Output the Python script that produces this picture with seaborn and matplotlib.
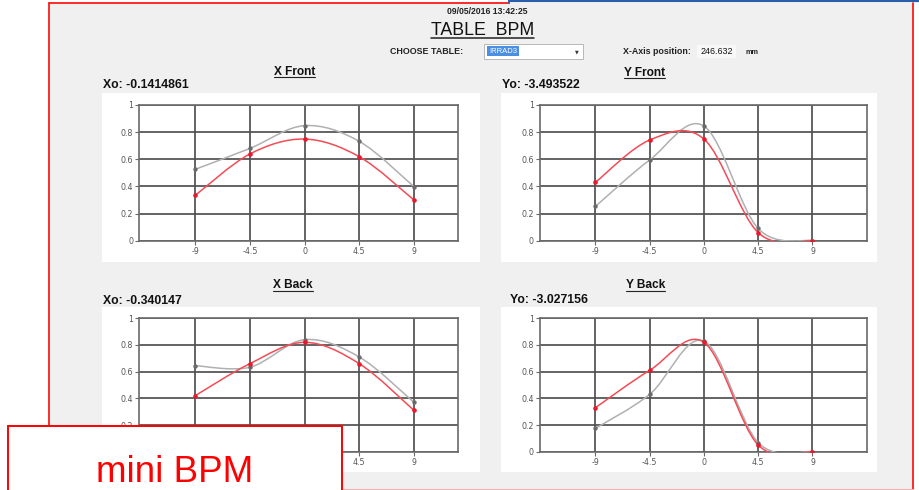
import matplotlib
matplotlib.use("Agg")
import matplotlib.pyplot as plt
from matplotlib.path import Path
from matplotlib.patches import PathPatch, Rectangle
from matplotlib.lines import Line2D
from matplotlib.transforms import IdentityTransform
import seaborn as sns
import pandas as pd

# ---------------- data ----------------
positions = [-9, -4.5, 0, 4.5, 9]
x_tick_labels = ["-9", "-4.5", "0", "4.5", "9"]
y_ticks = [0, 0.2, 0.4, 0.6, 0.8, 1]
y_tick_labels = ["0", "0.2", "0.4", "0.6", "0.8", "1"]

panel_titles = ["X Front", "Y Front", "X Back", "Y Back"]
panel_offsets = ["Xo: -0.1414861", "Yo: -3.493522", "Xo: -0.340147", "Yo: -3.027156"]

x_front_gray = [0.526, 0.68, 0.848, 0.732, 0.398]
x_front_red = [0.334, 0.639, 0.749, 0.619, 0.30]
y_front_gray = [0.253, 0.595, 0.845, 0.09, 0.0]
y_front_red = [0.43, 0.742, 0.749, 0.059, 0.0]
x_back_gray = [0.645, 0.633, 0.84, 0.71, 0.37]
x_back_red = [0.42, 0.66, 0.82, 0.66, 0.31]
y_back_gray = [0.175, 0.43, 0.83, 0.068, 0.0]
y_back_red = [0.33, 0.61, 0.82, 0.05, 0.0]

header_timestamp = "09/05/2016 13:42:25"
header_title = "TABLE  BPM"
table_label = "CHOOSE TABLE:"
table_choice = "IRRAD3"
axis_pos_label = "X-Axis position:"
axis_pos_value = "246.632"
axis_pos_unit = "mm"
banner_text = "mini BPM"

# ---------------- helpers ----------------
W, H = 920, 490
FONT = "Liberation Sans"


def fx(px):
    return px / W


def fy(py):
    return 1 - py / H


def spline_path(xs, ys):
    """Cardinal (Catmull-Rom) spline through the data points, as Bezier path."""
    pts = list(zip(xs, ys))
    n = len(pts)
    verts = [pts[0]]
    codes = [Path.MOVETO]
    for i in range(n - 1):
        p0 = pts[i - 1] if i > 0 else pts[i]
        p1 = pts[i]
        p2 = pts[i + 1]
        p3 = pts[i + 2] if i + 2 < n else pts[i + 1]
        c1 = (p1[0] + (p2[0] - p0[0]) / 6, p1[1] + (p2[1] - p0[1]) / 6)
        c2 = (p2[0] - (p3[0] - p1[0]) / 6, p2[1] - (p3[1] - p1[1]) / 6)
        verts += [c1, c2, p2]
        codes += [Path.CURVE4] * 3
    return Path(verts, codes)


sns.set_style("white")
plt.rcParams["font.family"] = [FONT, "DejaVu Sans"]

fig = plt.figure(figsize=(W / 100, H / 100), dpi=100)
fig.patch.set_facecolor("white")

# window background and frame
fig.add_artist(Rectangle((fx(49), fy(490)), fx(913) - fx(49), fy(3) - fy(490),
                         transform=fig.transFigure, facecolor="#f0f0f0",
                         edgecolor="none", zorder=-10))
for (x0, y0, x1, y1) in [(102, 93, 480, 262), (501, 93, 877, 262),
                         (102, 307, 480, 472), (501, 307, 877, 472)]:
    fig.add_artist(Rectangle((fx(x0), fy(y1)), fx(x1) - fx(x0), fy(y0) - fy(y1),
                             transform=fig.transFigure, facecolor="white",
                             edgecolor="none", zorder=-9))

red_border = "#ff1a1a"
fig.add_artist(Line2D([fx(49), fx(49)], [fy(3), fy(490)], transform=fig.transFigure,
                      color=red_border, lw=1.3, zorder=5))
fig.add_artist(Line2D([fx(49), fx(509)], [fy(3), fy(3)], transform=fig.transFigure,
                      color=red_border, lw=1.3, zorder=5))
fig.add_artist(Line2D([fx(913), fx(913)], [fy(3), fy(490)], transform=fig.transFigure,
                      color=red_border, lw=1.3, zorder=5))
fig.add_artist(Line2D([fx(49), fx(913)], [fy(488.5), fy(488.5)], transform=fig.transFigure,
                      color="#f3b0b0", lw=0.8, zorder=5))
fig.add_artist(Line2D([fx(509), fx(920)], [fy(1.5), fy(1.5)], transform=fig.transFigure,
                      color="#2a5fa8", lw=1.6, zorder=5))
fig.add_artist(Line2D([fx(509), fx(509)], [fy(0), fy(3)], transform=fig.transFigure,
                      color="#2a5fa8", lw=1.3, zorder=5))

# ---------------- header ----------------
fig.text(fx(487), fy(12), header_timestamp, fontsize=6.2, ha="center", va="center",
         color="#222222", fontweight="bold")
title_txt = fig.text(fx(482.5), fy(30.5), header_title, fontsize=12.8, ha="center",
                     va="center", color="#111111")
fig.text(fx(390), fy(51.5), table_label, fontsize=6.4, ha="left", va="center",
         color="#222222", fontweight="bold")
fig.add_artist(Rectangle((fx(484), fy(59)), fx(583) - fx(484), fy(44) - fy(59),
                         transform=fig.transFigure, facecolor="white",
                         edgecolor="#b8b8b8", lw=0.7, zorder=2))
fig.add_artist(Rectangle((fx(487), fy(56.5)), fx(519) - fx(487), fy(46.5) - fy(56.5),
                         transform=fig.transFigure, facecolor="#4b8fe3",
                         edgecolor="none", zorder=3))
fig.text(fx(503), fy(51.5), table_choice, fontsize=5.5, ha="center", va="center",
         color="white", zorder=4)
fig.text(fx(577), fy(52), "\u25BC", fontsize=3.5, ha="center", va="center",
         color="#333333", family="DejaVu Sans")
fig.text(fx(623), fy(51.5), axis_pos_label, fontsize=6.4, ha="left", va="center",
         color="#222222", fontweight="bold")
fig.add_artist(Rectangle((fx(697), fy(58)), fx(736) - fx(697), fy(45) - fy(58),
                         transform=fig.transFigure, facecolor="#f8f8f8",
                         edgecolor="none", zorder=2))
fig.text(fx(716.5), fy(51.5), axis_pos_value, fontsize=6.4, ha="center", va="center",
         color="#111111")
fig.text(fx(745), fy(52), axis_pos_unit, fontsize=5.2, ha="left", va="center",
         color="#222222", fontweight="bold")

# ---------------- panels ----------------
panels = [
    # (title, offset, gray, red, x0, x1, y0, y1, xlim, title_cx, title_cy, off_x, off_y)
    (panel_titles[0], panel_offsets[0], x_front_gray, x_front_red,
     139.3, 457.7, 105, 240.7, (-13.6, 12.6), 294.5, 72, 103, 85.5),
    (panel_titles[1], panel_offsets[1], y_front_gray, y_front_red,
     540, 866.7, 105, 240.7, (-13.6, 13.5), 644.5, 72.5, 502, 85),
    (panel_titles[2], panel_offsets[2], x_back_gray, x_back_red,
     139.3, 457.7, 318.3, 451.7, (-13.6, 12.6), 293, 285.5, 103, 300.5),
    (panel_titles[3], panel_offsets[3], y_back_gray, y_back_red,
     540, 866.7, 318.3, 451.7, (-13.6, 13.5), 645.5, 285.5, 510, 300),
]

gray_line, gray_dot = "#b0b0b0", "#6a6a6a"
red_line, red_dot = "#f44b55", "#e8192c"
grid_col = "#505050"

underline_texts = [title_txt]
all_axes = []

for (title, offset, gray, red, x0, x1, y0, y1, xlim, tcx, tcy, ox, oy) in panels:
    ax = fig.add_axes([fx(x0), fy(y1), fx(x1) - fx(x0), fy(y0) - fy(y1)])
    all_axes.append(ax)
    ax.set_facecolor("white")
    df = pd.DataFrame({"pos": positions, "gray": gray, "red": red})

    ax.add_patch(PathPatch(spline_path(df["pos"], df["gray"]), fill=False,
                           edgecolor=gray_line, lw=1.1, zorder=3))
    ax.add_patch(PathPatch(spline_path(df["pos"], df["red"]), fill=False,
                           edgecolor=red_line, lw=1.1, zorder=4))
    sns.scatterplot(data=df, x="pos", y="gray", ax=ax, color=gray_dot, s=10,
                    linewidth=0, zorder=5)
    sns.scatterplot(data=df, x="pos", y="red", ax=ax, color=red_dot, s=11,
                    linewidth=0, zorder=6)

    ax.set_xlim(*xlim)
    ax.set_ylim(0, 1)
    ax.set_xticks(positions)
    ax.set_xticklabels(x_tick_labels)
    ax.set_yticks(y_ticks)
    ax.set_yticklabels(y_tick_labels)
    ax.set_xlabel("")
    ax.set_ylabel("")
    ax.grid(True, color=grid_col, lw=1.25)
    ax.set_axisbelow(True)
    for sp in ax.spines.values():
        sp.set_visible(True)
        sp.set_color("#6a6a6a")
        sp.set_linewidth(1.2)
    ax.tick_params(axis="both", which="both", direction="out", length=3, width=0.8,
                   color="#6a6a6a", labelsize=5.7, labelcolor="#555555", pad=1.5,
                   bottom=True, left=True)
    for lab in ax.get_xticklabels() + ax.get_yticklabels():
        lab.set_family("DejaVu Sans")

    t = fig.text(fx(tcx), fy(tcy), title, fontsize=8.6, ha="center", va="center",
                 color="#111111", fontweight="bold")
    underline_texts.append(t)
    fig.text(fx(ox), fy(oy), offset, fontsize=8.8, ha="left", va="center",
             color="#111111", fontweight="bold")

# ---------------- banner ----------------
banner = Rectangle((fx(8), fy(495)), fx(342) - fx(8), fy(426) - fy(495),
                   transform=fig.transFigure, facecolor="white",
                   edgecolor="#ff0000", lw=1.4, zorder=20)
fig.add_artist(banner)
fig.text(fx(175), fy(482), banner_text, fontsize=26.5, ha="center", va="baseline",
         color="#ff0000", zorder=21)

# underline titles; hide tick labels that the banner fully covers
fig.canvas.draw()
renderer = fig.canvas.get_renderer()
for t in underline_texts:
    bb = t.get_window_extent(renderer)
    yline = bb.y0 + 0.5
    fig.add_artist(Line2D([bb.x0, bb.x1], [yline, yline], transform=IdentityTransform(),
                          color="#222222", lw=0.8 if t is not title_txt else 1.1,
                          zorder=6))

bx0, by0 = 8, 0
bx1, by1 = 342, H - 426
for ax in all_axes:
    for lab in ax.get_xticklabels() + ax.get_yticklabels():
        bb = lab.get_window_extent(renderer)
        if bb.x0 >= bx0 and bb.x1 <= bx1 and bb.y0 >= by0 and bb.y1 <= by1:
            lab.set_visible(False)

fig.savefig("out.png", dpi=100)
